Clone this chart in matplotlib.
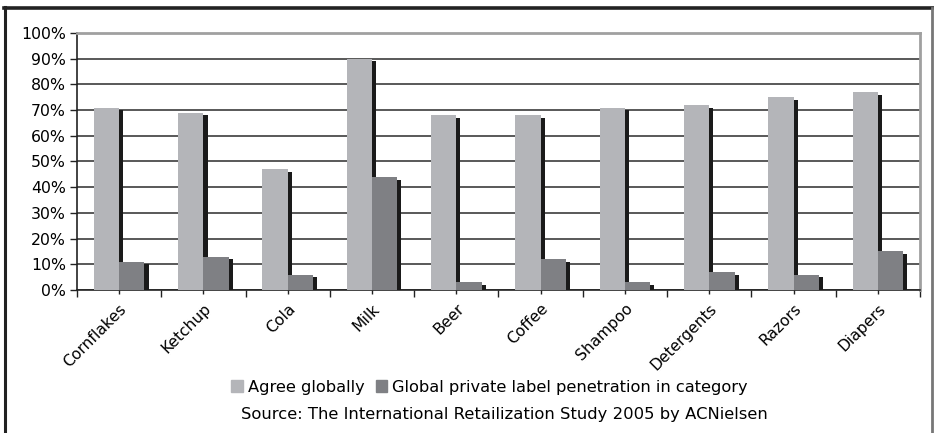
import matplotlib
matplotlib.use("Agg")
import matplotlib.pyplot as plt
import matplotlib.patheffects as pe
from matplotlib.lines import Line2D
from matplotlib.patches import Patch
import numpy as np

kategorie = ["Cornflakes", "Ketchup", "Cola", "Milk", "Beer", "Coffee",
             "Shampoo", "Detergents", "Razors", "Diapers"]
agree_globally = [71, 69, 47, 90, 68, 68, 71, 72, 75, 77]
private_label = [11, 13, 6, 44, 3, 12, 3, 7, 6, 15]

kolor_jasny = "#b4b5b9"
kolor_ciemny = "#7f8084"

plt.rcParams["font.family"] = "DejaVu Sans"

fig = plt.figure(figsize=(9.34, 4.33), dpi=100)
ax = fig.add_axes([0.0824, 0.3303, 0.9026, 0.5935])

x = np.arange(len(kategorie))
szer = 0.3

# cien pod slupkami (efekt 3D)
cien = [pe.SimplePatchShadow(offset=(3, -2), shadow_rgbFace="#1a1a1a", alpha=1.0), pe.Normal()]

ax.bar(x + 0.5 - szer, agree_globally, szer, align="edge", color=kolor_jasny,
       zorder=3, path_effects=cien)
ax.bar(x + 0.5, private_label, szer, align="edge", color=kolor_ciemny,
       zorder=4, path_effects=cien)

ax.set_xlim(0, len(kategorie))
ax.set_ylim(0, 100)
ax.set_yticks(np.arange(0, 101, 10))
ax.set_yticklabels([f"{v}%" for v in range(0, 101, 10)], fontsize=11.3)
ax.yaxis.grid(True, color="#3c3c3c", linewidth=1.2, zorder=0)
ax.set_axisbelow(True)

# etykiety kategorii w srodkach, kreski na granicach
ax.set_xticks(np.arange(0, len(kategorie) + 1))
ax.set_xticklabels([])
ax.set_xticks(x + 0.5, minor=True)
ax.set_xticklabels(kategorie, minor=True, rotation=45, ha="right", va="top",
                   rotation_mode="anchor", fontsize=11.2)
ax.tick_params(axis="x", which="major", length=5, width=1, color="#222")
ax.tick_params(axis="x", which="minor", length=3, width=1, color="#222", pad=5)
ax.tick_params(axis="y", length=5, width=1, color="#222", pad=3)

for s in ["left", "bottom"]:
    ax.spines[s].set_color("#222")
    ax.spines[s].set_linewidth(1.2)
for s in ["top", "right"]:
    ax.spines[s].set_color("#a0a0a0")
    ax.spines[s].set_linewidth(2)

uchwyty = [Patch(color=kolor_jasny), Patch(color=kolor_ciemny)]
fig.legend(uchwyty, ["Agree globally", "Global private label penetration in category"],
           loc="center", bbox_to_anchor=(0.524, 0.106), ncol=2, frameon=False,
           fontsize=11.7, handlelength=0.7, handleheight=0.7, handletextpad=0.3,
           columnspacing=0.7, borderpad=0, borderaxespad=0)

fig.text(0.54, 0.042, "Source: The International Retailization Study 2005 by ACNielsen",
         ha="center", va="center", fontsize=11.8)

# ramka wokol wykresu
fig.add_artist(Line2D([0.0055, 0.0055], [0, 0.984], color="#222", linewidth=2.2))
fig.add_artist(Line2D([0.0045, 0.9985], [0.982, 0.982], color="#222", linewidth=2.6))
fig.add_artist(Line2D([0.998, 0.998], [0, 0.982], color="#777", linewidth=2))

fig.savefig("out.png", dpi=100)
